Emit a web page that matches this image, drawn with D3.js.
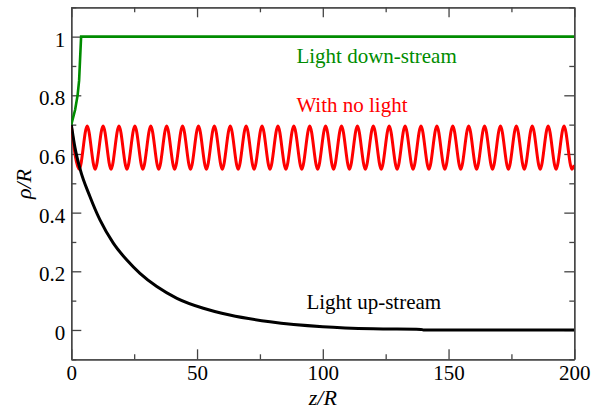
<!DOCTYPE html>
<html>
<head>
<meta charset="utf-8">
<script src="https://cdn.jsdelivr.net/npm/d3@7/dist/d3.min.js"></script>
<style>
  body { margin: 0; background: #fff; }
</style>
</head>
<body>
<div id="mainArea"></div>
<script>
// tick values and labels
var xMajor = [0, 50, 100, 150, 200];
var xMinor = [25, 75, 125, 175];
var xTickLabels = ["0", "50", "100", "150", "200"];
var yMajor = [0, 0.2, 0.4, 0.6, 0.8, 1];
var yMinor = [-0.1, 0.1, 0.3, 0.5, 0.7, 0.9, 1.1];
var yTickLabels = ["0", "0.2", "0.4", "0.6", "0.8", "1"];

// light down-stream (green), [z/R, rho/R]
var downStream = [[0, 0.70], [1.5, 0.75], [2.5, 0.80], [3.1, 0.85], [3.9, 1.0], [200, 1.0]];

// light up-stream (black)
var upStream = [[0, 0.70], [1.5, 0.62], [3.5, 0.548], [7.4, 0.455], [11.4, 0.375], [16.7, 0.296],
  [22, 0.239], [27.3, 0.193], [34, 0.148], [42, 0.108], [52.5, 0.074], [63, 0.051],
  [79, 0.028], [100, 0.011], [120, 0.004], [139, 0.002], [140, 0], [200, 0]];

// with no light (red) - peaks and troughs
var noLight = [
  [0, 0.695], [3.16, 0.548], [6.32, 0.695], [9.48, 0.548], [12.64, 0.695], [15.80, 0.548],
  [18.96, 0.695], [22.12, 0.548], [25.28, 0.695], [28.44, 0.548], [31.60, 0.695], [34.76, 0.548],
  [37.92, 0.695], [41.08, 0.548], [44.24, 0.695], [47.40, 0.548], [50.56, 0.695], [53.72, 0.548],
  [56.88, 0.695], [60.04, 0.548], [63.20, 0.695], [66.36, 0.548], [69.52, 0.695], [72.68, 0.548],
  [75.84, 0.695], [79.00, 0.548], [82.16, 0.695], [85.32, 0.548], [88.48, 0.695], [91.64, 0.548],
  [94.80, 0.695], [97.96, 0.548], [101.12, 0.695], [104.28, 0.548], [107.44, 0.695], [110.60, 0.548],
  [113.76, 0.695], [116.92, 0.548], [120.08, 0.695], [123.24, 0.548], [126.40, 0.695], [129.56, 0.548],
  [132.72, 0.695], [135.88, 0.548], [139.04, 0.695], [142.20, 0.548], [145.36, 0.695], [148.52, 0.548],
  [151.68, 0.695], [154.84, 0.548], [158.00, 0.695], [161.16, 0.548], [164.32, 0.695], [167.48, 0.548],
  [170.64, 0.695], [173.80, 0.548], [176.96, 0.695], [180.12, 0.548], [183.28, 0.695], [186.44, 0.548],
  [189.60, 0.695], [192.76, 0.548], [195.92, 0.695], [199.08, 0.548], [200, 0.562]];

function mainInit()
{
  var width = 592, height = 414;
  var left = 71.3, right = 574.3, top = 7.3, bottom = 359.3;
  var font = "'Liberation Serif', 'Times New Roman', serif";
  var axisColor = "#444";

  var vis = d3.select("#mainArea").append("svg")
    .attr("width", width)
    .attr("height", height)
    .style("display", "block");

  vis.append("rect").attr("width", width).attr("height", height).attr("fill", "#fff");

  var x = d3.scaleLinear().domain([0, 200]).range([left, right]);
  var y = d3.scaleLinear().domain([-0.1, 1.1]).range([bottom, top]);

  vis.append("clipPath").attr("id", "plotClip")
    .append("rect")
    .attr("x", left).attr("y", top)
    .attr("width", right - left).attr("height", bottom - top);

  // axes, ticks pointing inward on all four sides
  vis.append("g").attr("transform", "translate(0," + bottom + ")")
    .call(d3.axisBottom(x).tickValues(xMajor).tickSize(-10).tickSizeOuter(0).tickPadding(6)
      .tickFormat(function(d, i) { return xTickLabels[i]; }));
  vis.append("g").attr("transform", "translate(0," + bottom + ")")
    .call(d3.axisBottom(x).tickValues(xMinor).tickSize(-5).tickSizeOuter(0).tickFormat(""));
  vis.append("g").attr("transform", "translate(0," + top + ")")
    .call(d3.axisTop(x).tickValues(xMajor).tickSize(-10).tickSizeOuter(0).tickFormat(""));
  vis.append("g").attr("transform", "translate(0," + top + ")")
    .call(d3.axisTop(x).tickValues(xMinor).tickSize(-5).tickSizeOuter(0).tickFormat(""));

  var yAxisG = vis.append("g").attr("transform", "translate(" + left + ",0)")
    .call(d3.axisLeft(y).tickValues(yMajor).tickSize(-10).tickSizeOuter(0).tickPadding(6)
      .tickFormat(function(d, i) { return yTickLabels[i]; }));
  yAxisG.selectAll("text").attr("dy", "0.45em");
  vis.append("g").attr("transform", "translate(" + left + ",0)")
    .call(d3.axisLeft(y).tickValues(yMinor).tickSize(-5).tickSizeOuter(0).tickFormat(""));
  vis.append("g").attr("transform", "translate(" + right + ",0)")
    .call(d3.axisRight(y).tickValues(yMajor).tickSize(-10).tickSizeOuter(0).tickFormat(""));
  vis.append("g").attr("transform", "translate(" + right + ",0)")
    .call(d3.axisRight(y).tickValues(yMinor).tickSize(-5).tickSizeOuter(0).tickFormat(""));

  vis.selectAll(".domain, .tick line")
    .attr("stroke", axisColor)
    .attr("stroke-width", 1.3);
  vis.selectAll(".tick text")
    .attr("fill", "#000")
    .style("font-family", font)
    .style("font-size", "21px");

  // data lines
  var line = d3.line()
    .x(function(d) { return x(d[0]); })
    .y(function(d) { return y(d[1]); });

  var plot = vis.append("g").attr("clip-path", "url(#plotClip)");

  plot.append("path").datum(noLight)
    .attr("d", line.curve(d3.curveMonotoneX))
    .attr("fill", "none").attr("stroke", "#ff0000").attr("stroke-width", 3);

  plot.append("path").datum(upStream)
    .attr("d", line.curve(d3.curveMonotoneX))
    .attr("fill", "none").attr("stroke", "#000").attr("stroke-width", 3);

  plot.append("path").datum(downStream)
    .attr("d", line.curve(d3.curveLinear))
    .attr("fill", "none").attr("stroke", "#008c00").attr("stroke-width", 2.6);

  // series labels
  var labels = [
    {text: "Light down-stream", z: 89.5, r: 0.91, color: "#008c00"},
    {text: "With no light", z: 89.5, r: 0.744, color: "#ff0000"},
    {text: "Light up-stream", z: 93.5, r: 0.071, color: "#000"}
  ];
  vis.selectAll("text.series")
    .data(labels)
    .enter()
    .append("text")
    .attr("class", "series")
    .attr("x", function(d) { return x(d.z); })
    .attr("y", function(d) { return y(d.r); })
    .attr("fill", function(d) { return d.color; })
    .style("font-family", font)
    .style("font-size", "21px")
    .text(function(d) { return d.text; });

  // axis titles
  vis.append("text")
    .attr("x", (left + right) / 2)
    .attr("y", 405)
    .attr("text-anchor", "middle")
    .style("font-family", font)
    .style("font-size", "22px")
    .style("font-style", "italic")
    .text("z/R");

  vis.append("text")
    .attr("transform", "translate(31,184) rotate(-90)")
    .attr("text-anchor", "middle")
    .style("font-family", font)
    .style("font-size", "22px")
    .style("font-style", "italic")
    .text("ρ/R");
}

window.onload = mainInit;
</script>
</body>
</html>
